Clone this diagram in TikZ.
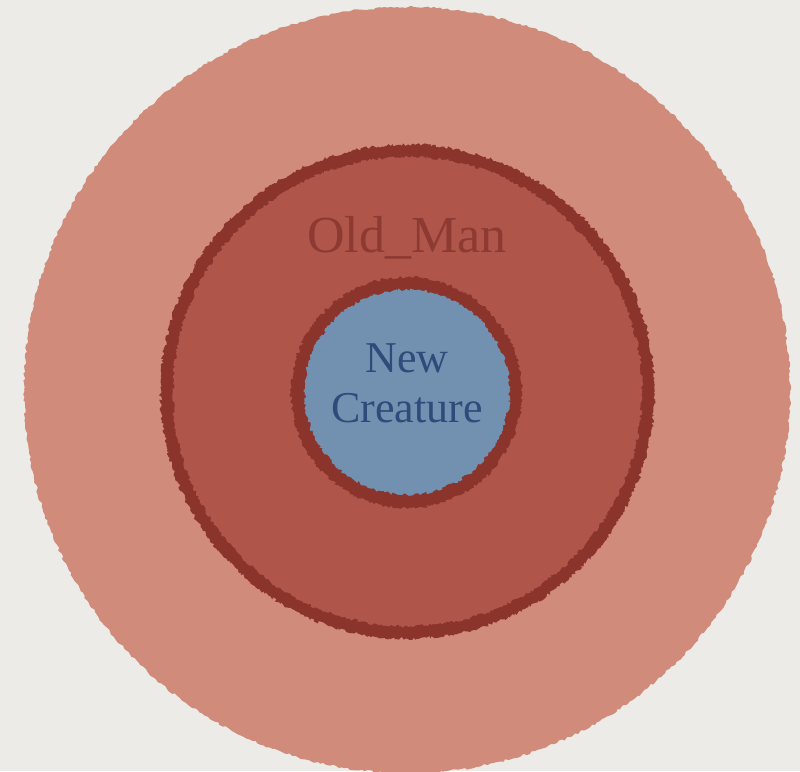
\documentclass[tikz,border=0pt]{standalone}
\usepackage{fontspec}
\setmainfont{Liberation Serif}
\usetikzlibrary{decorations.pathmorphing}
\definecolor{paper}{HTML}{EDEBE7}
\definecolor{outerred}{HTML}{D08B7A}
\definecolor{midred}{HTML}{B0554A}
\definecolor{darkred}{HTML}{8B342C}
\definecolor{oldtext}{HTML}{8D3A33}
\definecolor{blue1}{HTML}{7290B0}
\definecolor{bluetext}{HTML}{2F4B7B}
\tikzset{
  rough/.style={decorate,decoration={random steps,segment length=3pt,amplitude=1.2pt}},
  roughfine/.style={decorate,decoration={random steps,segment length=2pt,amplitude=1.6pt}},
}
\begin{document}
\begin{tikzpicture}[x=1pt,y=-1pt]
\pgfmathsetseed{7}
\fill[paper] (0,0) rectangle (800,771);
\useasboundingbox (0,0) rectangle (800,771);
% outer disc
\fill[outerred,rough] (407,390) circle[radius=383];
% middle ring border and fill
\fill[darkred,roughfine] (407.5,391.5) circle[radius=247];
\fill[midred,roughfine] (407.5,391.5) circle[radius=234.5];
% inner circle border and fill
\fill[darkred,roughfine] (406.5,392.5) circle[radius=115.5];
\fill[blue1,roughfine] (407,392) circle[radius=102.5];
% labels
\node[text=oldtext,font=\fontsize{52}{60}\selectfont,inner sep=0pt,anchor=base] (oldman) at (407,252) {Old\_Man};
\node[text=bluetext,font=\fontsize{44}{50}\selectfont,inner sep=0pt,anchor=base,align=center] (newcreature) at (407,422) {New\\Creature};
\end{tikzpicture}
\end{document}
